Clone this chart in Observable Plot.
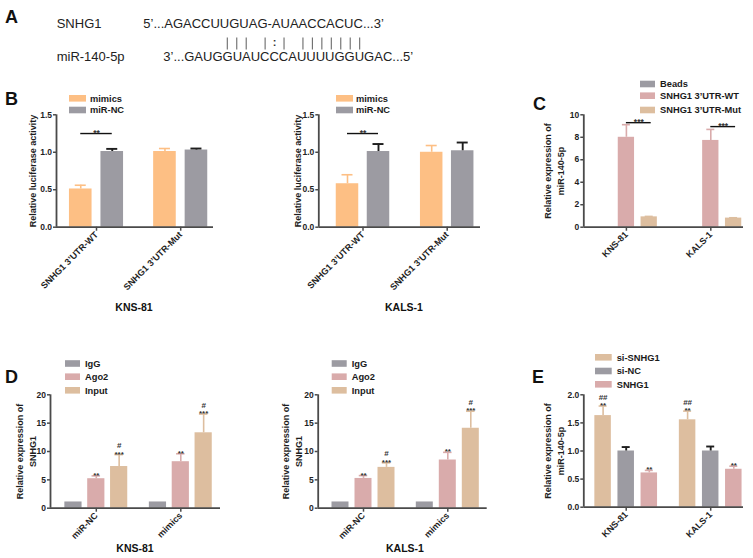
<!DOCTYPE html>
<html>
<head>
<meta charset="utf-8">
<script src="https://cdn.jsdelivr.net/npm/d3@7"></script>
<script src="https://cdn.jsdelivr.net/npm/@observablehq/plot@0.6"></script>
<style>
  body { margin: 0; background: #fff; }
  #root { position: relative; width: 753px; height: 558px; overflow: hidden; background: #fff; }
  .chart { position: absolute; }
  #overlay { position: absolute; left: 0; top: 0; pointer-events: none; }
</style>
</head>
<body>
<div id="root"></div>
<script>
// ---------------- DATA ----------------
// Panel A
const snhg1Label = "SNHG1";
const mirLabel = "miR-140-5p";
const snhg1Seq = "5’...AGACCUUGUAG-AUAACCACUC...3’";
const mirPrefix = "3’...";
const mirCore = "GAUGGUAUCCCAUUUUGGUGAC";
const mirSuffix = "...5’";
const pairIdx = [4, 5, 6, 8, 10, 12, 13, 14, 15, 16, 17, 18];
const wobbleIdx = [9];

// Panel B
const bGroups = ["SNHG1 3’UTR-WT", "SNHG1 3’UTR-Mut"];
const bSeries = ["mimics", "miR-NC"];
const bKnsMimics = [0.51, 1.01];
const bKnsMimicsErr = [0.05, 0.04];
const bKnsNC = [1.01, 1.03];
const bKnsNCErr = [0.035, 0.02];
const bKalsMimics = [0.58, 1.00];
const bKalsMimicsErr = [0.12, 0.09];
const bKalsNC = [1.01, 1.02];
const bKalsNCErr = [0.10, 0.11];
const bTicks = [0, 0.5, 1.0, 1.5];
const bSigY = 1.25;

// Panel C
const cGroups = ["KNS-81", "KALS-1"];
const cSeries = ["Beads", "SNHG1 3’UTR-WT", "SNHG1 3’UTR-Mut"];
const cBeads = [0, 0];
const cBeadsErr = [0, 0];
const cWT = [8.0, 7.72];
const cWTErr = [1.12, 0.98];
const cMut = [0.92, 0.81];
const cMutErr = [0.04, 0.03];
const cTicks = [0, 2, 4, 6, 8, 10];
const cSigY = [9.3, 8.95];

// Panel D
const dGroups = ["miR-NC", "mimics"];
const dSeries = ["IgG", "Ago2", "Input"];
const dKnsIgG = [1.1, 1.1];
const dKnsAgo2 = [5.2, 8.2];
const dKnsAgo2Err = [0.5, 1.4];
const dKnsInput = [7.35, 13.3];
const dKnsInputErr = [2.1, 3.3];
const dKalsIgG = [1.1, 1.1];
const dKalsAgo2 = [5.25, 8.5];
const dKalsAgo2Err = [0.5, 1.35];
const dKalsInput = [7.2, 14.1];
const dKalsInputErr = [0.8, 3.0];
const dTicks = [0, 5, 10, 15, 20];

// Panel E
const eGroups = ["KNS-81", "KALS-1"];
const eSeries = ["si-SNHG1", "si-NC", "SNHG1"];
const eSi = [1.63, 1.555];
const eSiErr = [0.17, 0.155];
const eNC = [1.0, 1.0];
const eNCErr = [0.07, 0.08];
const eSNHG1 = [0.61, 0.675];
const eSNHG1Err = [0.045, 0.055];
const eTicks = [0, 0.5, 1.0, 1.5, 2.0];

// ---------------- STYLE ----------------
const FONT = "'Liberation Sans', Arial, Helvetica, sans-serif";
const ORANGE = "#fdbf84", GREY = "#9c9ba2", PINK = "#d9abab", TAN = "#ddbe9f";
const AX = "#4a4a4a", INK = "#1e1e1e";

const root = document.getElementById("root");

function place(el, left, top, w, h) {
  const div = document.createElement("div");
  div.className = "chart";
  div.style.left = left + "px"; div.style.top = top + "px";
  div.style.width = w + "px"; div.style.height = h + "px";
  div.appendChild(el);
  root.appendChild(div);
}

function makeChart(spec, lay) {
  const unit = lay.c1 - lay.c0;
  const d0 = (lay.x0 - lay.c0) / unit, d1 = 1 + (lay.x1 - lay.c1) / unit;
  const n = spec.series.length, pitch = lay.pitch / unit, bw = lay.barW / unit, cap = lay.cap / unit;
  const rows = [];
  spec.groups.forEach((g, gi) => spec.series.forEach((s, si) => rows.push({
    g, gi, s, si, v: spec.means[si][gi], e: spec.errs[si][gi],
    cx: gi + (si - (n - 1) / 2) * pitch
  })));
  const errRows = rows.filter(r => r.e > 0);
  const errLight = errRows.filter(r => !spec.darkErr.includes(r.s));
  const errDark = errRows.filter(r => spec.darkErr.includes(r.s));
  const find = (gi, s) => rows.find(r => r.gi === gi && r.s === s);
  const sigRows = (spec.sig || []).map(d => ({
    x1: find(d.gi, d.from).cx, x2: find(d.gi, d.to).cx + (d.extra || 0) / unit, y: d.y, label: d.label
  }));
  const noteRows = rows.filter(r => spec.notes && spec.notes[r.s]).map(r => ({...r, lab: spec.notes[r.s].slice().reverse().join("\n")}));
  const ymax = spec.yDomain[1];
  const marks = [
    Plot.rectY(rows.filter(r => r.v > 0), {x1: r => r.cx - bw / 2, x2: r => r.cx + bw / 2, y1: 0, y2: "v", fill: "s"}),
    Plot.ruleX(errLight, {x: "cx", y1: "v", y2: r => r.v + r.e, stroke: "s", strokeWidth: 1.6}),
    Plot.ruleY(errLight, {y: r => r.v + r.e, x1: r => r.cx - cap / 2, x2: r => r.cx + cap / 2, stroke: "s", strokeWidth: 1.6}),
    Plot.ruleX(errDark, {x: "cx", y1: "v", y2: r => r.v + r.e, stroke: INK, strokeWidth: 1.9}),
    Plot.ruleY(errDark, {y: r => r.v + r.e, x1: r => r.cx - cap / 2, x2: r => r.cx + cap / 2, stroke: INK, strokeWidth: 1.9}),
    Plot.ruleY([0], {x1: d0, x2: d1, stroke: AX, strokeWidth: 1.8}),
    Plot.ruleX([d0], {y1: 0, y2: ymax, stroke: AX, strokeWidth: 1.8}),
    Plot.ruleY(sigRows, {y: "y", x1: "x1", x2: "x2", stroke: "#111", strokeWidth: 1.4}),
    Plot.text(sigRows, {x: r => (r.x1 + r.x2) / 2, y: "y", text: "label", lineAnchor: "bottom", dy: 2, fontSize: 8.5, fill: "#333"}),
    Plot.text(noteRows, {x: "cx", y: r => r.v + r.e, text: "lab", lineAnchor: "bottom", dy: 2, fontSize: 8, lineHeight: 1.05, fill: "#333"}),
    Plot.text([spec.yTitle], {frameAnchor: "left", textAnchor: "middle", lineAnchor: "middle", dx: lay.titleX - lay.x0, rotate: -90, fontSize: 9, fontWeight: "bold", lineHeight: 1.45, fill: INK})
  ];
  const svg = Plot.plot({
    width: lay.width, height: lay.height,
    marginLeft: lay.x0 - lay.left, marginRight: lay.left + lay.width - lay.x1,
    marginTop: lay.yT - lay.top, marginBottom: lay.top + lay.height - lay.yB,
    x: {type: "linear", domain: [d0, d1], ticks: [0, 1], tickFormat: i => spec.groups[Math.round(i)], tickRotate: -45, tickSize: 4, tickPadding: 2, label: null},
    y: {domain: spec.yDomain, ticks: spec.yTicks, tickFormat: spec.fmt, tickSize: 3, tickPadding: 1.5, label: null},
    color: {domain: spec.series, range: spec.colors},
    style: {background: "transparent", fontFamily: FONT, fontSize: "8.5px", fontWeight: "bold", color: INK, overflow: "visible"},
    marks
  });
  svg.querySelectorAll('[aria-label*="axis"] line, [aria-label*="axis"] path').forEach(el => {
    el.setAttribute("stroke", AX); el.style.stroke = AX; el.style.strokeWidth = "1.5px";
  });
  svg.querySelectorAll('[aria-label*="x-axis"] text').forEach(el => { el.style.fontSize = "9px"; });
  place(svg, lay.left, lay.top, lay.width, lay.height);
}

const f1 = d3.format(".1f"), f0 = d3.format("d");

makeChart({groups: bGroups, series: bSeries, colors: [ORANGE, GREY],
  means: [bKnsMimics, bKnsNC], errs: [bKnsMimicsErr, bKnsNCErr], darkErr: ["miR-NC"],
  yDomain: [0, 1.5], yTicks: bTicks, fmt: f1, yTitle: "Relative luciferase activity",
  sig: [{gi: 0, from: "mimics", to: "miR-NC", y: bSigY, label: "**"}]},
  {left: 0, top: 80, width: 240, height: 240, x0: 56, x1: 213, yT: 114.3, yB: 226.7, c0: 96, c1: 180.2, pitch: 31.5, barW: 22.6, cap: 11, titleX: 31.7});

makeChart({groups: bGroups, series: bSeries, colors: [ORANGE, GREY],
  means: [bKalsMimics, bKalsNC], errs: [bKalsMimicsErr, bKalsNCErr], darkErr: ["miR-NC"],
  yDomain: [0, 1.5], yTicks: bTicks, fmt: f1, yTitle: "Relative luciferase activity",
  sig: [{gi: 0, from: "mimics", to: "miR-NC", y: bSigY, label: "**"}]},
  {left: 250, top: 80, width: 240, height: 240, x0: 318.3, x1: 480, yT: 114.3, yB: 226.7, c0: 362.5, c1: 446.7, pitch: 31, barW: 22.5, cap: 11, titleX: 296.7});

makeChart({groups: cGroups, series: cSeries, colors: [GREY, PINK, TAN],
  means: [cBeads, cWT, cMut], errs: [cBeadsErr, cWTErr, cMutErr], darkErr: ["Beads"],
  yDomain: [0, 10], yTicks: cTicks, fmt: f0, yTitle: "Relative expression of\nmiR-140-5p",
  sig: [{gi: 0, from: "SNHG1 3’UTR-WT", to: "SNHG1 3’UTR-Mut", y: cSigY[0], label: "***", extra: 2},
        {gi: 1, from: "SNHG1 3’UTR-WT", to: "SNHG1 3’UTR-Mut", y: cSigY[1], label: "***", extra: 2}]},
  {left: 500, top: 80, width: 253, height: 240, x0: 583.3, x1: 743, yT: 114.3, yB: 226.7, c0: 625.9, c1: 710.3, pitch: 22.8, barW: 16.3, cap: 8, titleX: 553.3});

makeChart({groups: dGroups, series: dSeries, colors: [GREY, PINK, TAN],
  means: [dKnsIgG, dKnsAgo2, dKnsInput], errs: [[0, 0], dKnsAgo2Err, dKnsInputErr], darkErr: ["IgG"],
  yDomain: [0, 20], yTicks: dTicks, fmt: f0, yTitle: "Relative expression of\nSNHG1",
  notes: {"Ago2": ["**"], "Input": ["***", "#"]}},
  {left: 0, top: 340, width: 240, height: 218, x0: 50, x1: 220, yT: 394.3, yB: 507.7, c0: 95.8, c1: 180.3, pitch: 22.85, barW: 17.2, cap: 8.5, titleX: 25});

makeChart({groups: dGroups, series: dSeries, colors: [GREY, PINK, TAN],
  means: [dKalsIgG, dKalsAgo2, dKalsInput], errs: [[0, 0], dKalsAgo2Err, dKalsInputErr], darkErr: ["IgG"],
  yDomain: [0, 20], yTicks: dTicks, fmt: f0, yTitle: "Relative expression of\nSNHG1",
  notes: {"Ago2": ["**"], "Input": ["***", "#"]}},
  {left: 250, top: 340, width: 250, height: 218, x0: 317.7, x1: 486.7, yT: 394.3, yB: 507.7, c0: 363, c1: 447.3, pitch: 23, barW: 17, cap: 8.5, titleX: 290.8});

makeChart({groups: eGroups, series: eSeries, colors: [TAN, GREY, PINK],
  means: [eSi, eNC, eSNHG1], errs: [eSiErr, eNCErr, eSNHG1Err], darkErr: ["si-NC"],
  yDomain: [0, 2], yTicks: eTicks, fmt: f1, yTitle: "Relative expression of\nmiR-140-5p",
  notes: {"si-SNHG1": ["**", "##"], "SNHG1": ["**"]}},
  {left: 500, top: 340, width: 253, height: 218, x0: 583.3, x1: 743, yT: 394.3, yB: 506.7, c0: 625.7, c1: 710.2, pitch: 23.1, barW: 16.5, cap: 8, titleX: 553.3});

// ---------------- Panel A pairing marks ----------------
const ctx = document.createElement("canvas").getContext("2d");
ctx.font = "13px 'Liberation Sans'";
const seqLeft = 163.3;
const xA0 = seqLeft + ctx.measureText(mirPrefix).width;
const xA1 = xA0 + ctx.measureText(mirCore).width;
const pairSvg = Plot.plot({
  width: 753, height: 70, margin: 0,
  x: {domain: [0, mirCore.length], range: [xA0, xA1], axis: null},
  y: {domain: [0, 1], range: [49.5, 37.5], axis: null},
  style: {background: "transparent", fontFamily: FONT, overflow: "visible"},
  marks: [
    Plot.ruleX(pairIdx, {x: i => i + 0.5, y1: 0, y2: 1, stroke: "#6a6a6a", strokeWidth: 1.1}),
    Plot.text(wobbleIdx, {x: i => i + 0.5, y: 0.6, text: () => ":", fontSize: 11, fontWeight: "bold", fill: "#333"})
  ]
});
place(pairSvg, 0, 0, 753, 70);

// ---------------- Overlay: labels & legends ----------------
const ov = d3.select(root).append("svg").attr("id", "overlay").attr("width", 753).attr("height", 558)
  .style("font-family", FONT);

[["A", 5, 23], ["B", 5, 105], ["C", 533, 110], ["D", 5, 383], ["E", 532, 383]].forEach(([t, x, y]) =>
  ov.append("text").attr("x", x).attr("y", y).attr("font-size", 18).attr("font-weight", "bold").attr("fill", "#111").text(t));

[[snhg1Label, 56.7, 28.3], [snhg1Seq, 143.3, 28.3], [mirLabel, 56.7, 61.3], [mirPrefix + mirCore + mirSuffix, seqLeft, 61.3]]
  .forEach(([t, x, y]) => ov.append("text").attr("x", x).attr("y", y).attr("font-size", 13).attr("fill", "#222").text(t));

[["KNS-81", 134, 311], ["KALS-1", 404, 311], ["KNS-81", 135, 552], ["KALS-1", 405, 552]].forEach(([t, x, y]) =>
  ov.append("text").attr("x", x).attr("y", y).attr("text-anchor", "middle").attr("font-size", 10.5).attr("font-weight", "bold").attr("fill", "#111").text(t));

function legend(series, colors, lay) {
  series.forEach((s, i) => {
    ov.append("rect").attr("x", lay.x).attr("y", lay.ys[i] - 3.3).attr("width", lay.w).attr("height", 6.6).attr("fill", colors[i]);
    ov.append("text").attr("x", lay.tx).attr("y", lay.ys[i]).attr("dy", "0.35em").attr("font-size", 9.3)
      .attr("font-weight", "bold").attr("fill", "#1a1a1a").text(s);
  });
}
legend(bSeries, [ORANGE, GREY], {x: 69, w: 17, tx: 90, ys: [98.3, 110]});
legend(bSeries, [ORANGE, GREY], {x: 336, w: 17, tx: 356, ys: [98.3, 110]});
legend(cSeries, [GREY, PINK, TAN], {x: 640, w: 15, tx: 660, ys: [84, 95.7, 110]});
legend(dSeries, [GREY, PINK, TAN], {x: 65, w: 15, tx: 85, ys: [363.5, 376.7, 390.3]});
legend(dSeries, [GREY, PINK, TAN], {x: 331.7, w: 15, tx: 351.7, ys: [363.5, 376.7, 390.3]});
legend(eSeries, [TAN, GREY, PINK], {x: 595, w: 16.7, tx: 616.7, ys: [357.3, 371, 384.3]});
</script>
</body>
</html>
